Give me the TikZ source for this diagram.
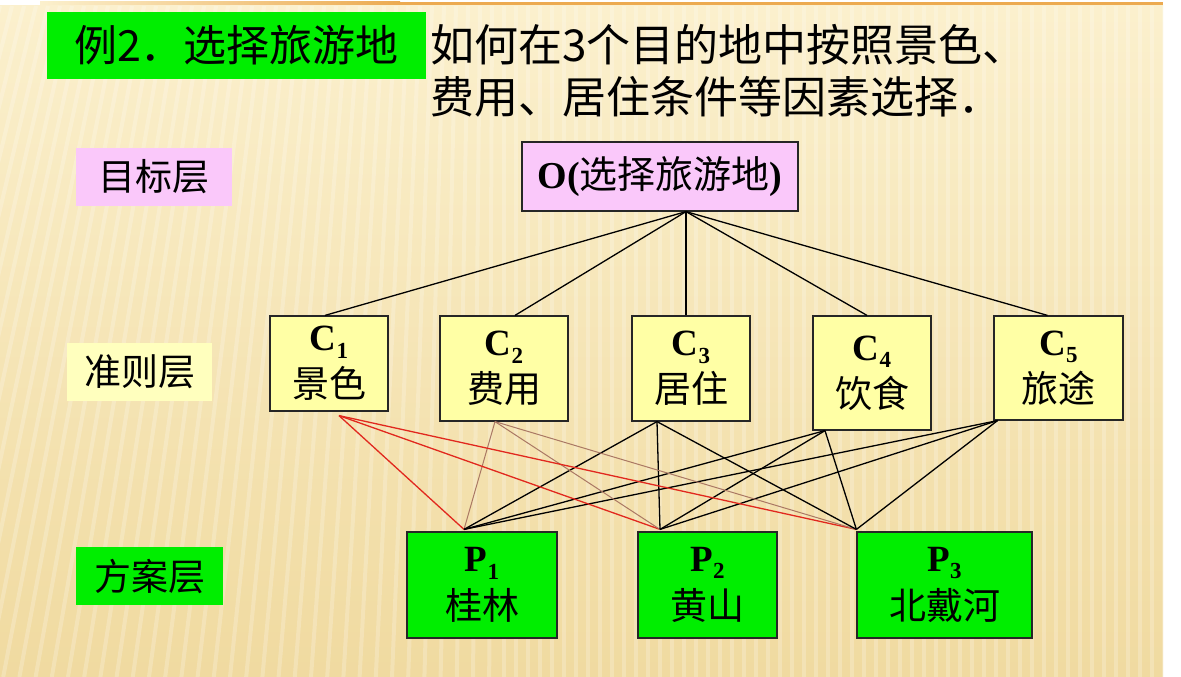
\documentclass[tikz,border=0pt]{standalone}
\usepackage{fontspec}
\setmainfont{Liberation Serif}
\newfontfamily\cjk{Noto Sans CJK SC}
\usetikzlibrary{calc}
\definecolor{bgA}{RGB}{251,240,205}
\definecolor{bgB}{RGB}{240,218,160}
\definecolor{boxgreen}{RGB}{0,238,0}
\definecolor{boxpink}{RGB}{250,200,250}
\definecolor{boxyellow}{RGB}{255,255,165}
\definecolor{lblyellow}{RGB}{255,255,190}
\definecolor{linered}{RGB}{225,40,30}
\definecolor{linebrown}{RGB}{170,120,100}
\definecolor{topline}{RGB}{236,170,80}
\tikzset{
  boxbase/.style={draw=black!85, line width=1.2pt, inner sep=0pt, align=center},
  cbox/.style={boxbase, fill=boxyellow, font=\fontsize{37}{47}\selectfont},
  pbox/.style={boxbase, fill=boxgreen, font=\fontsize{37}{48}\selectfont},
  lbl/.style={inner sep=0pt, font=\cjk\fontsize{37}{44}\selectfont},
  conn/.style={draw=black, line width=1.3pt},
  connred/.style={draw=linered, line width=1.3pt},
  connbrown/.style={draw=linebrown, line width=1pt}
}
\newcommand{\zh}[1]{{\cjk #1}}
\newcommand{\lat}[2]{{\bfseries #1\raisebox{-0.2em}{\fontsize{23}{23}\selectfont #2}}}
\begin{document}
\begin{tikzpicture}[x=1pt,y=-1pt]
\useasboundingbox (0,0) rectangle (1181,677);
\fill[white] (0,0) rectangle (1181,677);
\shade[top color=bgA,bottom color=bgB] (0,6) rectangle (1163,677);
\begin{scope}
\clip (0,6) rectangle (1163,677);
\foreach \x in {-300,-288,...,1170}{
  \pgfmathsetmacro{\dx}{max(0,500-\x)*0.35}
  \draw[white,opacity=0.22,line width=4pt] (\x,6) -- ({\x-\dx},677);
}
\end{scope}
\shade[left color=bgA,right color=topline] (40,2) rectangle (400,5);
\fill[topline] (400,2) rectangle (1163,5);

% title and question
\node[fill=boxgreen, minimum width=379pt, minimum height=67pt, inner sep=0pt,
      font=\cjk\fontsize{43}{50}\selectfont] (title) at (236.5,45.5) {例2．选择旅游地};
\node[anchor=west, align=left, inner sep=0pt, font=\cjk\fontsize{44}{52}\selectfont]
      (question) at (430,71) {如何在3个目的地中按照景色、\\费用、居住条件等因素选择．};

% layer labels
\node[lbl, fill=boxpink, minimum width=156pt, minimum height=58pt] (Lgoal) at (154,177) {目标层};
\node[lbl, fill=lblyellow, minimum width=145pt, minimum height=58pt] (Lcrit) at (139.5,372) {准则层};
\node[lbl, fill=boxgreen, minimum width=147pt, minimum height=58pt] (Lplan) at (149.5,576) {方案层};

% goal
\node[boxbase, fill=boxpink, minimum width=276pt, minimum height=69pt,
      font=\fontsize{38}{44}\selectfont] (O) at (660,176.5)
      {\textbf{O(}\zh{选择旅游地}\textbf{)}};

% criteria
\node[cbox, minimum width=118pt, minimum height=95pt]  (C1) at (329,363.5)  {\lat{C}{1}\\\zh{景色}};
\node[cbox, minimum width=128pt, minimum height=105pt] (C2) at (504,368.5)  {\lat{C}{2}\\\zh{费用}};
\node[cbox, minimum width=118pt, minimum height=105pt] (C3) at (691,368.5)  {\lat{C}{3}\\\zh{居住}};
\node[cbox, minimum width=118pt, minimum height=114pt] (C4) at (872,373)    {\lat{C}{4}\\\zh{饮食}};
\node[cbox, minimum width=129pt, minimum height=104pt] (C5) at (1058.5,368) {\lat{C}{5}\\\zh{旅途}};

% alternatives
\node[pbox, minimum width=150pt, minimum height=106pt] (P1) at (482,585)   {\lat{P}{1}\\\zh{桂林}};
\node[pbox, minimum width=139pt, minimum height=106pt] (P2) at (707.5,585) {\lat{P}{2}\\\zh{黄山}};
\node[pbox, minimum width=175pt, minimum height=106pt] (P3) at (944.5,585) {\lat{P}{3}\\\zh{北戴河}};

% connection points
\coordinate (Ob) at ([xshift=26pt]O.south);
\coordinate (C1t) at ([xshift=-4pt]C1.north);
\coordinate (C2t) at ([xshift=11pt]C2.north);
\coordinate (C3t) at ([xshift=-5pt]C3.north);
\coordinate (C4t) at ([xshift=-5pt]C4.north);
\coordinate (C5t) at ([xshift=-11pt]C5.north);
\coordinate (C1b) at ([xshift=10pt,yshift=-4pt]C1.south);
\coordinate (C2b) at ([xshift=-9pt]C2.south);
\coordinate (C3b) at ([xshift=-34pt]C3.south);
\coordinate (C4b) at ([xshift=-47pt]C4.south);
\coordinate (C5b) at ([xshift=-61pt]C5.south);
\coordinate (P1t) at ([xshift=-18pt,yshift=2pt]P1.north);
\coordinate (P2t) at ([xshift=-47.5pt,yshift=2pt]P2.north);
\coordinate (P3t) at ([yshift=2pt]P3.north west);

% goal -> criteria
\foreach \c in {C1t,C2t,C3t,C4t,C5t}{ \draw[conn] (Ob) -- (\c); }

% criteria -> alternatives
\foreach \p in {P1t,P2t,P3t}{
  \draw[connred] (C1b) -- (\p);
  \draw[connbrown] (C2b) -- (\p);
  \draw[conn] (C3b) -- (\p);
  \draw[conn] (C4b) -- (\p);
  \draw[conn] (C5b) -- (\p);
}
\end{tikzpicture}
\end{document}
